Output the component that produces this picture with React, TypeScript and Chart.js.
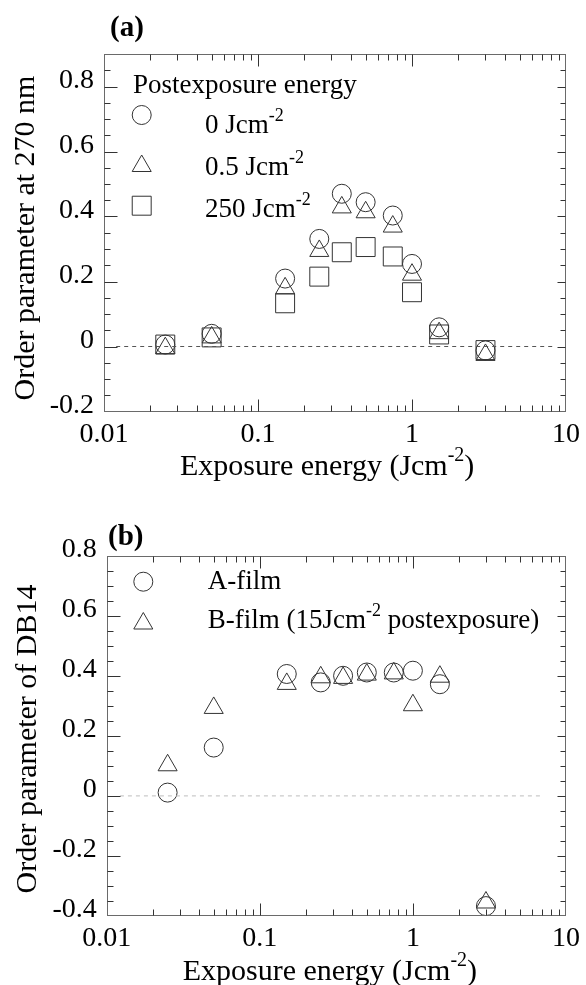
import React, { useEffect, useRef } from 'react';
import { Chart, registerables } from 'chart.js';
import { drawPoint } from 'chart.js/helpers';

Chart.register(...registerables);

// ---------- data ----------
const energiesA = [0.025, 0.05, 0.15, 0.25, 0.35, 0.5, 0.75, 1.0, 1.5, 3.0];
const post0A = [0.006, 0.039, 0.209, 0.331, 0.47, 0.444, 0.403, 0.254, 0.059, -0.012];
const post05A = [-0.005, 0.028, 0.179, 0.294, 0.428, 0.413, 0.369, 0.221, 0.041, -0.026];
const post250A = [0.006, 0.028, 0.133, 0.215, 0.29, 0.306, 0.277, 0.167, 0.037, -0.011];

const energiesB = [0.025, 0.05, 0.15, 0.25, 0.35, 0.5, 0.75, 1.0, 1.5, 3.0];
const aFilmB = [0.011, 0.161, 0.406, 0.378, 0.4, 0.411, 0.411, 0.417, 0.372, -0.367];
const bFilmB = [0.102, 0.293, 0.373, 0.395, 0.393, 0.404, 0.408, 0.302, 0.397, -0.355];

const xTickValues = [0.01, 0.1, 1, 10];
const yTicksA = [-0.2, 0, 0.2, 0.4, 0.6, 0.8];
const yTicksB = [-0.4, -0.2, 0, 0.2, 0.4, 0.6, 0.8];
const zeroLineA = [0.012, 8.2];
const zeroLineB = [0.0122, 6.9];

const legendTitleA = 'Postexposure energy';
const legendLabelsA = ['0 Jcm', '0.5 Jcm', '250 Jcm'];
const legendLabelsB = ['A-film', 'B-film (15Jcm'];

// ---------- styles ----------
const W = 586;
const SERIF = '"Liberation Serif", "Times New Roman", serif';
const TEXT = '#000';
const SYMBOL = '#333';
const FRAME = '#6a6a6a';
const TICK = '#333';
const TICK_FONT = 28;
const TITLE_FONT = 30;
const LEGEND_FONT = 27;
const Y_MINOR = 0.05;

Chart.defaults.font.family = SERIF;

type Part = { t: string; sup?: boolean };

function drawParts(ctx: CanvasRenderingContext2D, parts: Part[], x: number, y: number, size: number, supSize: number, raise: number, align: 'left' | 'center') {
  const mainFont = `${size}px ${SERIF}`;
  const supFont = `${supSize}px ${SERIF}`;
  let total = 0;
  const widths = parts.map((p) => {
    ctx.font = p.sup ? supFont : mainFont;
    const w = ctx.measureText(p.t).width;
    total += w;
    return w;
  });
  let cx = align === 'center' ? x - total / 2 : x;
  ctx.textAlign = 'left';
  ctx.textBaseline = 'alphabetic';
  parts.forEach((p, i) => {
    ctx.font = p.sup ? supFont : mainFont;
    ctx.fillText(p.t, cx, p.sup ? y - raise : y);
    cx += widths[i];
  });
}

const styleCircle = { pointStyle: 'circle', radius: 9.5 };
const styleTriangle = { pointStyle: 'triangle', radius: 11 };
const styleRect = { pointStyle: 'rect', radius: 13.4 };

const panelA = {
  id: 'a',
  H: 490,
  area: { left: 104, top: 54, right: 569, bottom: 411.5 },
  yMin: -0.2,
  yMax: 0.9,
  yTicks: yTicksA,
  energies: energiesA,
  series: [
    { label: legendLabelsA[0], sym: styleCircle, values: post0A },
    { label: legendLabelsA[1], sym: styleTriangle, values: post05A },
    { label: legendLabelsA[2], sym: styleRect, values: post250A },
  ],
  zero: zeroLineA,
  zeroColor: '#555',
  panelLabel: { text: '(a)', x: 110, y: 36 },
  yTitle: { text: 'Order parameter at 270 nm', x: 34, y: 238 },
  legendTitle: { text: legendTitleA, x: 133, y: 93 },
  legend: [
    { sym: styleCircle, sx: 141.7, sy: 115, tx: 205, ty: 132.7, parts: [{ t: legendLabelsA[0] }, { t: '-2', sup: true }] },
    { sym: styleTriangle, sx: 141.7, sy: 166, tx: 205, ty: 175, parts: [{ t: legendLabelsA[1] }, { t: '-2', sup: true }] },
    { sym: styleRect, sx: 141.7, sy: 205.7, tx: 205, ty: 216.7, parts: [{ t: legendLabelsA[2] }, { t: '-2', sup: true }] },
  ],
};

const panelB = {
  id: 'b',
  H: 495,
  area: { left: 106.7, top: 65.7, right: 571.7, bottom: 426 },
  yMin: -0.4,
  yMax: 0.8,
  yTicks: yTicksB,
  energies: energiesB,
  series: [
    { label: legendLabelsB[0], sym: styleCircle, values: aFilmB },
    { label: legendLabelsB[1], sym: styleTriangle, values: bFilmB },
  ],
  zero: zeroLineB,
  zeroColor: '#bdbdbd',
  panelLabel: { text: '(b)', x: 108, y: 55 },
  yTitle: { text: 'Order parameter of DB14', x: 36, y: 249 },
  legendTitle: null as null | { text: string; x: number; y: number },
  legend: [
    { sym: styleCircle, sx: 143.3, sy: 91.7, tx: 207.7, ty: 99.3, parts: [{ t: legendLabelsB[0] }] },
    { sym: styleTriangle, sx: 143.3, sy: 133.5, tx: 207.7, ty: 138.3, parts: [{ t: legendLabelsB[1] }, { t: '-2', sup: true }, { t: ' postexposure)' }] },
  ],
};

type Spec = typeof panelA;

function decorPlugin(spec: Spec) {
  return {
    id: 'decor_' + spec.id,
    afterDraw(chart: any) {
      const ctx: CanvasRenderingContext2D = chart.ctx;
      const { left, right, top, bottom } = chart.chartArea;
      const xs = chart.scales.x;
      const ys = chart.scales.y;
      const L = Math.round(left) + 0.5;
      const R = Math.round(right) - 0.5;
      const T = Math.round(top) + 0.5;
      const B = Math.round(bottom) - 0.5;
      ctx.save();
      // frame
      ctx.strokeStyle = FRAME;
      ctx.lineWidth = 1;
      ctx.strokeRect(L, T, R - L, B - T);
      // inward ticks on all four sides
      ctx.strokeStyle = TICK;
      ctx.beginPath();
      for (let e = -2; e <= 0; e++) {
        for (let m = 1; m <= 9; m++) {
          const v = m * Math.pow(10, e);
          const px = Math.round(xs.getPixelForValue(v)) + 0.5;
          if (px <= L + 1 || px >= R - 1) continue;
          const len = m === 1 ? 12 : 6;
          ctx.moveTo(px, B);
          ctx.lineTo(px, B - len);
          ctx.moveTo(px, T);
          ctx.lineTo(px, T + len);
        }
      }
      const k0 = Math.ceil(ys.min / Y_MINOR - 1e-6);
      const k1 = Math.floor(ys.max / Y_MINOR + 1e-6);
      for (let k = k0; k <= k1; k++) {
        const v = k * Y_MINOR;
        const py = Math.round(ys.getPixelForValue(v)) + 0.5;
        if (py <= T + 1 || py >= B - 1) continue;
        const major = k % 4 === 0;
        ctx.moveTo(L, py);
        ctx.lineTo(L + (major ? 13 : 6), py);
        ctx.moveTo(R, py);
        ctx.lineTo(R - (major ? 8 : 5), py);
      }
      ctx.stroke();

      ctx.fillStyle = TEXT;
      // panel label
      ctx.font = `bold 29px ${SERIF}`;
      ctx.textAlign = 'left';
      ctx.textBaseline = 'alphabetic';
      ctx.fillText(spec.panelLabel.text, spec.panelLabel.x, spec.panelLabel.y);

      // y title
      ctx.save();
      ctx.translate(spec.yTitle.x, spec.yTitle.y);
      ctx.rotate(-Math.PI / 2);
      ctx.font = `${TITLE_FONT}px ${SERIF}`;
      ctx.textAlign = 'center';
      ctx.textBaseline = 'alphabetic';
      ctx.fillText(spec.yTitle.text, 0, 0);
      ctx.restore();

      // x title
      drawParts(
        ctx,
        [{ t: 'Exposure energy (Jcm' }, { t: '-2', sup: true }, { t: ')' }],
        left + 76,
        bottom + 63.5,
        TITLE_FONT,
        20,
        14,
        'left'
      );

      // legend
      if (spec.legendTitle) {
        ctx.font = `${LEGEND_FONT}px ${SERIF}`;
        ctx.fillText(spec.legendTitle.text, spec.legendTitle.x, spec.legendTitle.y);
      }
      spec.legend.forEach((it) => {
        ctx.save();
        ctx.strokeStyle = SYMBOL;
        ctx.fillStyle = 'rgba(0,0,0,0)';
        ctx.lineWidth = 1;
        drawPoint(ctx, { pointStyle: it.sym.pointStyle as any, radius: it.sym.radius, rotation: 0, borderWidth: 1 }, it.sx, it.sy);
        ctx.restore();
        ctx.fillStyle = TEXT;
        drawParts(ctx, it.parts as Part[], it.tx, it.ty, LEGEND_FONT, 18, 12, 'left');
      });
      ctx.restore();
    },
  };
}

function buildConfig(spec: Spec): any {
  const datasets: any[] = [
    {
      label: 'zero',
      data: [
        { x: spec.zero[0], y: 0 },
        { x: spec.zero[1], y: 0 },
      ],
      showLine: true,
      borderColor: spec.zeroColor,
      borderWidth: 1,
      borderDash: [4, 4],
      pointRadius: 0,
      fill: false,
    },
  ];
  spec.series.forEach((s) => {
    datasets.push({
      label: s.label,
      data: spec.energies.map((x, i) => ({ x, y: s.values[i] })),
      showLine: false,
      pointStyle: s.sym.pointStyle,
      pointRadius: s.sym.radius,
      pointHoverRadius: s.sym.radius,
      pointBorderWidth: 1,
      borderWidth: 1,
      pointBorderColor: SYMBOL,
      borderColor: SYMBOL,
      pointBackgroundColor: 'rgba(0,0,0,0)',
      backgroundColor: 'rgba(0,0,0,0)',
    });
  });
  const a = spec.area;
  return {
    type: 'scatter',
    data: { datasets },
    options: {
      responsive: false,
      animation: false,
      devicePixelRatio: 1,
      events: [],
      layout: { padding: { left: 0, top: a.top, right: W - a.right, bottom: 0 } },
      plugins: {
        legend: { display: false },
        tooltip: { enabled: false },
        title: { display: false },
      },
      scales: {
        x: {
          type: 'logarithmic',
          position: 'bottom',
          min: 0.01,
          max: 10,
          grid: { display: false, drawTicks: false },
          border: { display: false },
          afterBuildTicks: (s: any) => {
            s.ticks = xTickValues.map((v) => ({ value: v, major: true }));
          },
          afterFit: (s: any) => {
            s.height = spec.H - a.bottom;
          },
          ticks: {
            autoSkip: false,
            maxRotation: 0,
            minRotation: 0,
            padding: 6,
            color: TEXT,
            font: { family: SERIF, size: TICK_FONT },
            callback: (v: any) => String(v),
          },
        },
        y: {
          type: 'linear',
          position: 'left',
          min: spec.yMin,
          max: spec.yMax,
          grid: { display: false, drawTicks: false },
          border: { display: false },
          afterBuildTicks: (s: any) => {
            s.ticks = spec.yTicks.map((v) => ({ value: v }));
          },
          afterFit: (s: any) => {
            s.width = a.left;
          },
          ticks: {
            autoSkip: false,
            padding: 10,
            labelOffset: -6,
            color: TEXT,
            font: { family: SERIF, size: TICK_FONT },
            callback: (v: any) => (Math.abs(v) < 1e-9 ? '0' : Number(v).toFixed(1)),
          },
        },
      },
    },
    plugins: [decorPlugin(spec)],
  };
}

function Panel({ spec }: { spec: Spec }) {
  const ref = useRef<HTMLCanvasElement>(null);
  useEffect(() => {
    const chart = new Chart(ref.current as HTMLCanvasElement, buildConfig(spec));
    return () => chart.destroy();
  }, [spec]);
  return <canvas ref={ref} width={W} height={spec.H} style={{ display: 'block', width: W, height: spec.H }} />;
}

export default function App() {
  return (
    <div style={{ position: 'absolute', left: 0, top: 0, width: W, height: 985, background: '#fff' }}>
      <Panel spec={panelA} />
      <Panel spec={panelB as any} />
    </div>
  );
}
